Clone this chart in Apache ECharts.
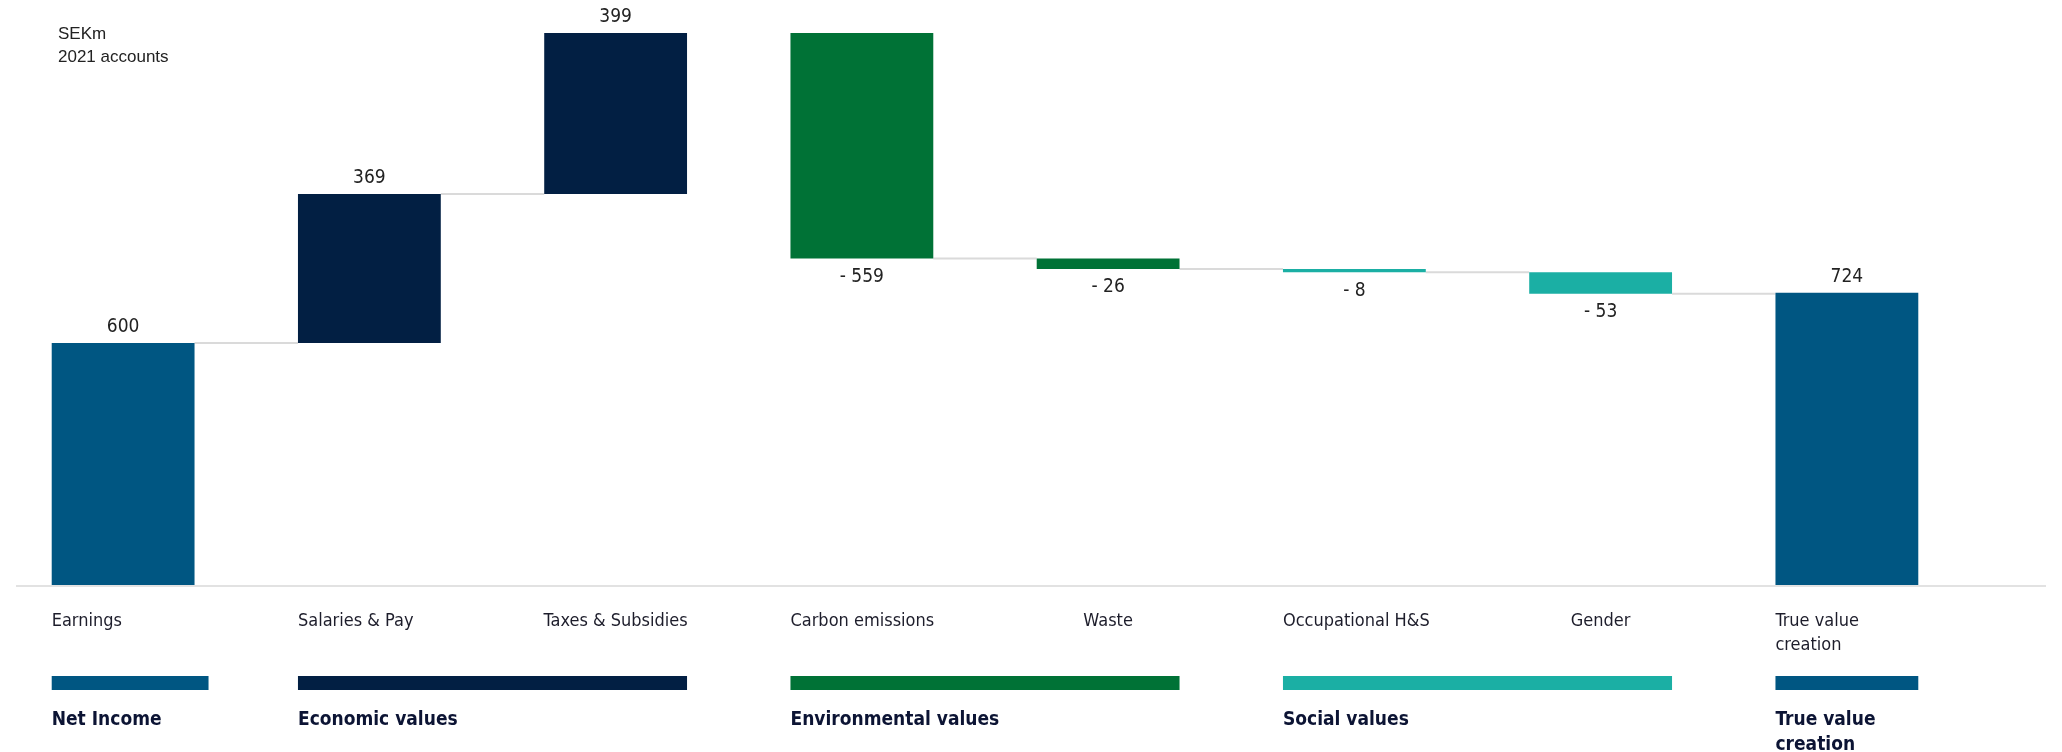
<!DOCTYPE html>
<html><head><meta charset="utf-8">
<script src="https://cdn.jsdelivr.net/npm/echarts@6/dist/echarts.min.js"></script>
<style>html,body{margin:0;padding:0;background:#fff}#c{width:2062px;height:752px}</style>
</head><body><div id="c"></div>
<script>
// ---- data ----
const categories = ['Earnings', 'Salaries & Pay', 'Taxes & Subsidies', 'Carbon emissions', 'Waste', 'Occupational H&S', 'Gender', 'True value\ncreation'];
const values = [600, 369, 399, -559, -26, -8, -53, 724];
const isTotal = [true, false, false, false, false, false, false, true];
const groupNames = ['Net Income', 'Economic values', 'Environmental values', 'Social values', 'True value\ncreation'];
const groupStart = [0, 1, 3, 5, 7];
const groupEnd = [0, 2, 4, 6, 7];
const groupColors = ['#005682', '#021f43', '#007236', '#1bafa4', '#005682'];
const showConnector = [true, true, false, true, true, true, true];
const unitNote = 'SEKm\n2021 accounts';

// ---- derived ----
const FONT = '"Liberation Sans Narrow","DejaVu Sans Condensed","Liberation Sans",sans-serif';
const BAR_FRAC = 0.58;
const bases = [], heights = [], running = [];
let t = 0;
values.forEach((v, i) => {
  if (isTotal[i]) { bases.push(0); heights.push(v); t = v; }
  else if (v >= 0) { bases.push(t); heights.push(v); t += v; }
  else { t += v; bases.push(t); heights.push(-v); }
  running.push(t);
});
const groupOf = categories.map((c, i) => groupStart.findIndex((s, g) => i >= s && i <= groupEnd[g]));
const yMax = Math.max(...bases.map((b, i) => b + heights[i]));

const chart = echarts.init(document.getElementById('c'));
const option = {
  animation: false,
  backgroundColor: '#fff',
  title: {
    text: unitNote, left: 53, top: 18,
    textStyle: { fontFamily: '"Liberation Sans",Arial,sans-serif', fontSize: 17, fontWeight: 'normal', color: '#222', lineHeight: 23 }
  },
  grid: { left: -1, top: 33, width: 1971, bottom: 167, containLabel: false },
  xAxis: {
    type: 'category', data: categories,
    axisLine: { show: false }, axisTick: { show: false }, axisLabel: { show: false }, splitLine: { show: false }
  },
  yAxis: { type: 'value', min: 0, max: yMax, show: false, splitLine: { show: false } },
  series: [
    {
      name: 'connectors', type: 'custom', z: 1, silent: true,
      data: running.slice(0, -1).map((r, i) => [i, r]),
      renderItem(params, api) {
        const i = params.dataIndex;
        if (!showConnector[i]) return null;
        const p1 = api.coord([i, running[i]]);
        const p2 = api.coord([i + 1, running[i]]);
        const hw = api.size([1, 0])[0] * BAR_FRAC / 2;
        return { type: 'line', shape: { x1: p1[0] + hw, y1: p1[1], x2: p2[0] - hw, y2: p1[1] }, style: { stroke: '#dadada', lineWidth: 2 } };
      }
    },
    {
      name: 'base', type: 'bar', stack: 'w', barWidth: (BAR_FRAC * 100) + '%', silent: true,
      itemStyle: { color: 'transparent' }, data: bases
    },
    {
      name: 'value', type: 'bar', stack: 'w', barWidth: (BAR_FRAC * 100) + '%', z: 3,
      data: heights.map((h, i) => ({
        value: h,
        itemStyle: { color: groupColors[groupOf[i]] },
        label: {
          show: true, position: values[i] < 0 ? 'bottom' : 'top', distance: values[i] < 0 ? 9 : 6,
          formatter: values[i] < 0 ? '- ' + (-values[i]) : String(values[i]),
          fontFamily: FONT, fontSize: 19, color: '#222'
        }
      }))
    },
    {
      name: 'catLabels', type: 'custom', z: 5, silent: true,
      data: categories.map((c, i) => [i, 0]),
      renderItem(params, api) {
        const i = params.dataIndex;
        const p = api.coord([i, 0]);
        const hw = api.size([1, 0])[0] * BAR_FRAC / 2;
        const first = groupStart[groupOf[i]] === i;
        return {
          type: 'text', x: first ? p[0] - hw : p[0], y: p[1] + 24,
          style: { text: categories[i], align: first ? 'left' : 'center', verticalAlign: 'top',
            fontFamily: FONT, fontSize: 18, lineHeight: 24, fill: '#1d1d2b' }
        };
      }
    },
    {
      name: 'groups', type: 'custom', z: 5, silent: true,
      data: groupStart.map((s, g) => [s, groupEnd[g]]),
      renderItem(params, api) {
        const g = params.dataIndex;
        const a = api.coord([api.value(0), 0]);
        const b = api.coord([api.value(1), 0]);
        const hw = api.size([1, 0])[0] * BAR_FRAC / 2;
        const extra = (g === 0) ? 14 : 0;
        const x0 = a[0] - hw, x1 = b[0] + hw + extra;
        return {
          type: 'group', children: [
            { type: 'rect', shape: { x: x0, y: a[1] + 91, width: x1 - x0, height: 14 }, style: { fill: groupColors[g] } },
            { type: 'text', x: x0, y: a[1] + 123,
              style: { text: groupNames[g], align: 'left', verticalAlign: 'top', fontFamily: FONT,
                fontSize: 19, fontWeight: 'bold', lineHeight: 25, fill: '#0c1434' } }
          ]
        };
      }
    }
  ]
};
chart.setOption(option);
const baseY = chart.convertToPixel({ gridIndex: 0 }, [0, 0])[1];
chart.setOption({
  graphic: [{ type: 'line', z: 0, shape: { x1: 16, y1: baseY + 1, x2: 2046, y2: baseY + 1 }, style: { stroke: '#e2e2e2', lineWidth: 2 } }]
});
</script></body></html>
